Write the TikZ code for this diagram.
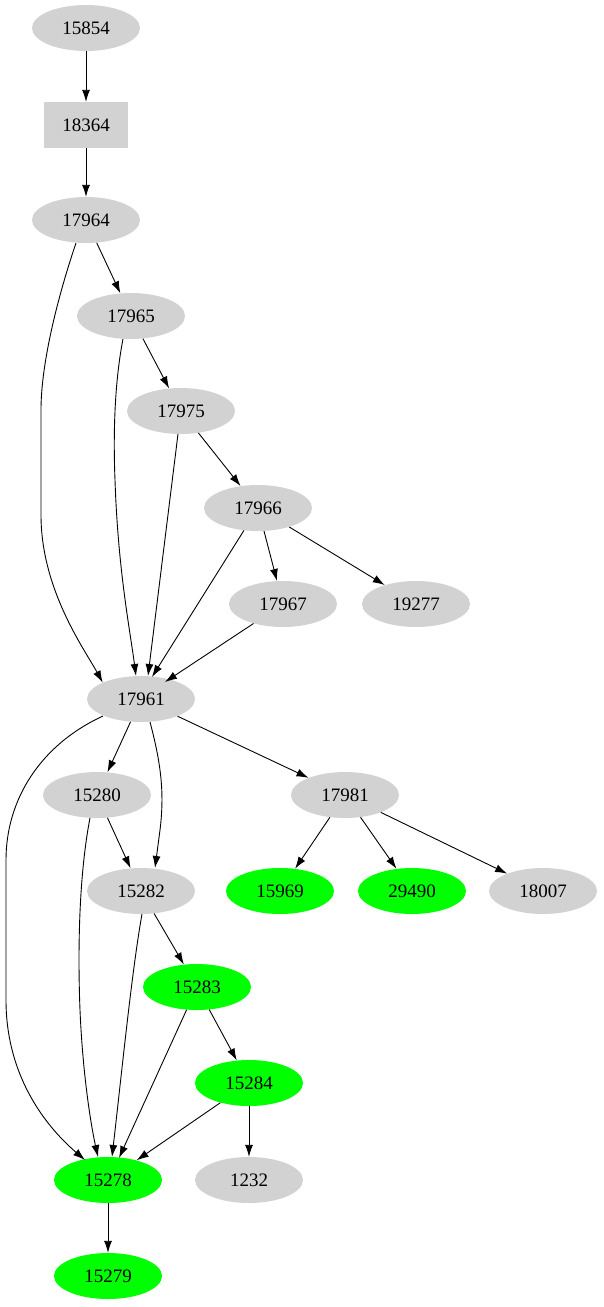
\documentclass[tikz,border=0pt]{standalone}
\usepackage{fontspec}
\setmainfont{Liberation Serif}
\usetikzlibrary{shapes.geometric,arrows.meta}
\begin{document}
\begin{tikzpicture}[x=1pt,y=-1pt,
  gv/.style={ellipse,fill=gray!35,minimum width=108pt,minimum height=46pt,inner sep=0pt,font=\fontsize{19pt}{21pt}\selectfont},
  gn/.style={gv,fill=green},
  bx/.style={rectangle,fill=gray!35,minimum width=84pt,minimum height=46pt,inner sep=0pt,font=\fontsize{19pt}{21pt}\selectfont},
  e/.style={-{Latex[length=12pt,width=8pt]},line width=0.9pt}]
\useasboundingbox (0,0) rectangle (603,1307);
\node[gv] (a) at (86,28) {15854};
\node[bx] (b) at (86,125) {18364};
\node[gv] (c) at (86,220) {17964};
\node[gv] (d) at (131,316) {17965};
\node[gv] (f) at (181,411) {17975};
\node[gv] (g) at (258,508) {17966};
\node[gv] (h) at (283,604) {17967};
\node[gv] (i) at (416,604) {19277};
\node[gv] (j) at (141,699) {17961};
\node[gv] (k) at (97,795) {15280};
\node[gv] (l) at (345,795) {17981};
\node[gv] (m) at (141,891) {15282};
\node[gn] (n) at (280,891) {15969};
\node[gn] (o) at (412,891) {29490};
\node[gv] (p) at (543,891) {18007};
\node[gn] (q) at (197,987) {15283};
\node[gn] (r) at (249,1083) {15284};
\node[gn] (s) at (108,1180) {15278};
\node[gv] (t) at (249,1180) {1232};
\node[gn] (u) at (108,1276) {15279};
\draw[e] (a) -- (b);
\draw[e] (b) -- (c);
\draw[e] (c) -- (d);
\draw[e] (d) -- (f);
\draw[e] (f) -- (g);
\draw[e] (g) -- (h);
\draw[e] (g) -- (i);
\draw[e] (76,243) .. controls (60,290) and (41,360) .. (41,410) -- (41,515) .. controls (41,590) and (85,650) .. (j.north west);
\draw[e] (123,339) .. controls (115,380) and (113,430) .. (115,480) .. controls (118,570) and (130,630) .. (136,676);
\draw[e] (178,434) -- (148,676);
\draw[e] (g) -- (152,677);
\draw[e] (h) -- (165,682);
\draw[e] (j) -- (k);
\draw[e] (j) -- (l);
\draw[e] (150,722) .. controls (160,760) and (165,790) .. (160,830) -- (155,868);
\draw[e] (103,716) .. controls (40,745) and (6,800) .. (6,860) -- (6,1000) .. controls (6,1080) and (50,1130) .. (85,1160);
\draw[e] (k) -- (m);
\draw[e] (l) -- (n);
\draw[e] (l) -- (o);
\draw[e] (l) -- (p);
\draw[e] (90,818) .. controls (78,880) and (78,960) .. (80,1010) .. controls (83,1080) and (92,1130) .. (98,1157);
\draw[e] (142,914) .. controls (132,970) and (122,1070) .. (112,1157);
\draw[e] (m) -- (q);
\draw[e] (q) -- (r);
\draw[e] (q) -- (119,1158);
\draw[e] (r) -- (s);
\draw[e] (r) -- (t);
\draw[e] (s) -- (u);
\end{tikzpicture}
\end{document}
